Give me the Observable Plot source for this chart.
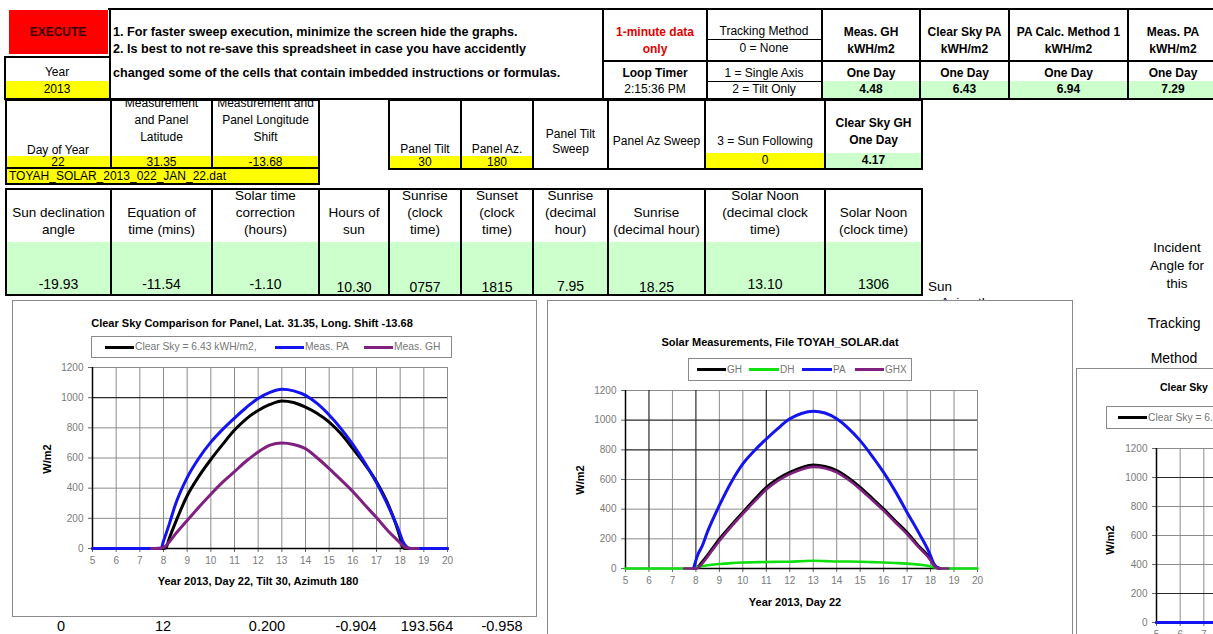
<!DOCTYPE html>
<html><head><meta charset="utf-8">
<script src="https://cdn.jsdelivr.net/npm/d3@7"></script>
<script src="https://cdn.jsdelivr.net/npm/@observablehq/plot@0.6"></script>
<style>
html,body{margin:0;padding:0;}
body{width:1213px;height:634px;overflow:hidden;position:relative;background:#fff;font-family:"Liberation Sans",Arial,sans-serif;}
.a{position:absolute;}
.t{position:absolute;white-space:nowrap;transform:translate(-50%,-50%);line-height:1;}
.frame{position:absolute;background:#fff;border:1.5px solid #8a8a8a;box-sizing:border-box;}
</style></head><body>
<script>
// ---------- DATA ----------
const hours = [5,6,7,7.5,7.75,7.9,8,8.1,8.25,8.5,9,9.5,10,10.5,11,11.5,12,12.5,13,13.5,14,14.5,15,15.5,16,16.5,17,17.5,18,18.1,18.25,18.4,18.5,18.75,19,20];
// Chart 1 (Clear Sky Comparison)
const clearSky = [0,0,0,0,0,0,0,5,70,170,350,480,590,690,785,860,915,955,978,968,937,895,838,760,662,560,443,290,70,10,0,0,0,0,0,0];
const measPA   = [0,0,0,0,0,0,50,95,165,290,470,600,705,790,865,935,995,1035,1055,1045,1015,960,885,795,690,570,435,280,95,50,15,0,0,0,0,0];
const measGH   = [null,null,null,0,2,4,8,18,45,95,185,275,360,440,510,580,640,685,700,690,662,600,530,455,378,290,205,115,37,20,5,2,0,0,null,null];
// Chart 2 (Solar Measurements)
const gh  = [null,null,null,null,null,0,3,12,40,90,198,290,378,465,547,605,648,680,698,688,660,610,547,475,400,320,243,150,63,35,8,0,null,null,null,null];
const dh  = [0,0,0,0,0,2,6,10,15,22,30,36,40,42,44,45,46,49,52,50,47,47,46,43,40,37,33,26,14,10,4,0,0,0,0,0];
const pa  = [null,null,null,null,null,0,55,100,145,250,425,580,705,795,873,945,1009,1045,1060,1048,1009,945,862,760,648,520,378,240,86,45,10,0,null,null,null,null];
const ghx = [null,null,null,0,0,0,0,5,30,80,185,280,368,452,532,592,636,668,685,676,648,598,535,463,390,310,232,142,55,28,5,0,0,0,null,null];
const hourTicks = [5,6,7,8,9,10,11,12,13,14,15,16,17,18,19,20];
const hourTicksVisible3 = [5,6,7];
const wTicks = [0,200,400,600,800,1000,1200];

// Sheet texts
const introLines = ["1. For faster sweep execution, minimize the screen hide the graphs.","2. Is best to not re-save this spreadsheet in case you have accidently","changed some of the cells that contain imbedded instructions or formulas."];
const trackingLines = ["Tracking Method","0 = None","1 = Single Axis","2 = Tilt Only"];
const summaryLabels = [["Meas. GH","kWH/m2"],["Clear Sky PA","kWH/m2"],["PA Calc. Method 1","kWH/m2"],["Meas. PA","kWH/m2"]];
const summaryValues = ["4.48","6.43","6.94","7.29"];
const siteValues = ["22","31.35","-13.68"];
const panelValues = ["30","180"];
const trackingValue = "0";
const clearSkyGH = "4.17";
const fileName = "TOYAH_SOLAR_2013_022_JAN_22.dat";
const row3Headers = [["Sun declination","angle"],["Equation of","time (mins)"],["Solar time","correction","(hours)"],["Hours of","sun"],["Sunrise","(clock","time)"],["Sunset","(clock","time)"],["Sunrise","(decimal","hour)"],["Sunrise","(decimal hour)"],["Solar Noon","(decimal clock","time)"],["Solar Noon","(clock time)"]];
const row3Values = ["-19.93","-11.54","-1.10","10.30","0757","1815","7.95","18.25","13.10","1306"];
const bottomValues = ["0","12","0.200","-0.904","193.564","-0.958"];

// ---------- HELPERS ----------
const root = document.body;
function box(x,y,w,h,style){const d=document.createElement('div');d.className='a';Object.assign(d.style,{left:x+'px',top:y+'px',width:w+'px',height:h+'px'},style||{});root.appendChild(d);return d;}
function H(x1,x2,y,w=2.5,c='#000'){return box(x1,y-w/2,x2-x1,w,{background:c});}
function V(x,y1,y2,w=2.5,c='#000'){return box(x-w/2,y1,w,y2-y1,{background:c});}
function T(x,y,s,o={}){const d=document.createElement('div');d.className='t';d.textContent=s;Object.assign(d.style,{left:x+'px',top:y+'px',fontSize:(o.size||12)+'px',fontWeight:o.bold?'bold':'normal',color:o.color||'#000'});if(o.left)d.style.transform='translate(0,-50%)';if(o.rot)d.style.transform='translate(-50%,-50%) rotate(-90deg)';root.appendChild(d);return d;}

// ---------- SHEET BACKGROUNDS ----------
const YEL='#ffff00', GRN='#ccffcc';
box(9,10,99,44,{background:'#ff0000'});
box(6,81,103,17,{background:YEL});
box(822,81,400,17,{background:GRN});
box(7,156,311,11,{background:YEL});
box(389,156,144,12,{background:YEL});
box(705,153,120,15,{background:YEL});
box(825,153,97,15,{background:GRN});
box(7,169,311,14,{background:YEL});
box(7,242,915,52,{background:GRN});

// ---------- SHEET LINES ----------
H(108,1213,9); H(4,1213,99); H(4,111,57); V(5,57,99); V(110,9,99);
[603,707,822,920,1009,1128].forEach(x=>V(x,9,99));
H(603,1213,61); H(707,822,39,1); H(707,822,81,1);
H(5,320,100); H(5,320,168); H(5,320,184); V(6,100,184); V(319,100,184); V(111,100,168); V(212,100,168);
H(388,923,100); H(388,923,169); [389,461,533,608,705,825,922].forEach(x=>V(x,100,169));
H(5,923,189); H(5,923,295); [6,111,212,319,389,461,533,608,705,825,922].forEach(x=>V(x,189,295));

// ---------- SHEET TEXT ----------
T(58,32,"EXECUTE",{bold:true,color:'#3a0000'});
introLines.forEach((s,i)=>T(113,[32,49,73][i],s,{bold:true,left:true,size:12.6}));
T(57,72,"Year"); T(57,89,"2013");
T(655,32,"1-minute data",{bold:true,color:'#e00000'}); T(655,49,"only",{bold:true,color:'#e00000'});
T(655,73,"Loop Timer",{bold:true}); T(655,89,"2:15:36 PM");
trackingLines.forEach((s,i)=>T(764,[31,48,73,89][i],s));
const sumCenters=[871,964.5,1068.5,1173];
summaryLabels.forEach((l,i)=>{T(sumCenters[i],32,l[0],{bold:true});T(sumCenters[i],49,l[1],{bold:true});T(sumCenters[i],73,"One Day",{bold:true});T(sumCenters[i],89,summaryValues[i],{bold:true});});
T(58,150,"Day of Year");
T(161.5,103,"Measurement"); T(161.5,120,"and Panel"); T(161.5,137,"Latitude");
T(265.5,103,"Measurement and"); T(265.5,120,"Panel Longitude"); T(265.5,137,"Shift");
[58,161.5,265.5].forEach((x,i)=>T(x,162,siteValues[i]));
T(9,176,fileName,{left:true});
T(425,149,"Panel Tilt"); T(497,149,"Panel Az.");
[425,497].forEach((x,i)=>T(x,162,panelValues[i]));
T(570.5,134,"Panel Tilt"); T(570.5,149,"Sweep");
T(656.5,141,"Panel Az Sweep");
T(765,141,"3 = Sun Following"); T(765,160,trackingValue);
T(873.5,123,"Clear Sky GH",{bold:true}); T(873.5,140,"One Day",{bold:true}); T(873.5,160,clearSkyGH,{bold:true});
const c3=[58.5,161.5,265.5,354,425,497,570.5,656.5,765,873.5];
const v3y=[284,284,284,287,287,287,286,287,284,284];
row3Headers.forEach((lines,i)=>{const n=lines.length;lines.forEach((s,j)=>T(c3[i],230-(n-1-j)*17,s,{size:13.5}));T(c3[i],v3y[i],row3Values[i],{size:14});});
T(940,287,"Sun",{size:13.5});
T(965,303,"Azimuth",{size:13.5});
T(1177,248,"Incident",{size:13.5}); T(1177,266,"Angle for",{size:13.5}); T(1177,284,"this",{size:13.5});
T(1174,323,"Tracking",{size:14}); T(1174,358,"Method",{size:14});
const bx=[61,163,267,356,427,502];
bottomValues.forEach((s,i)=>T(bx[i],626,s,{size:14.5}));

// ---------- CHARTS ----------
function frame(x,y,w,h){const d=box(x,y,w,h);d.className='frame';return d;}
function legend(x,y,w,h,items,size){
  box(x,y,w,h,{border:'1px solid #8a8a8a',boxSizing:'border-box',background:'#fff'});
  const cy=y+h/2;
  items.forEach(it=>{box(it.x1,cy-1.5,it.x2-it.x1,3,{background:it.color});T(it.x2+1,cy,it.label,{left:true,size:size,color:'#777'});});
}
function chart(o){
  const ml=60,mt=10,mr=14,mb=30;
  const xLabels=o.xLabels||hourTicks;
  const marks=[
    Plot.gridX(hourTicks.filter(h=>!o.darkX.includes(h)),{stroke:'#8c8c8c',strokeOpacity:1,strokeWidth:1}),
    Plot.gridY(wTicks.filter(v=>!o.darkY.includes(v)),{stroke:'#8c8c8c',strokeOpacity:1,strokeWidth:1}),
    Plot.ruleX(o.darkX,{stroke:'#2a2a2a',strokeWidth:1.2}),
    Plot.ruleY(o.darkY,{stroke:'#2a2a2a',strokeWidth:1.2}),
    Plot.axisX(xLabels,{tickSize:4,tickPadding:4,stroke:'#666',fill:'#7a7a7a',fontSize:10,label:null,tickFormat:d=>String(d)}),
    Plot.axisY(wTicks,{tickSize:4,tickPadding:5,stroke:'#666',fill:'#7a7a7a',fontSize:10,label:null,tickFormat:d=>String(d)}),
    Plot.ruleX([5],{stroke:'#000',strokeWidth:1.5}),
    Plot.ruleY([0],{stroke:'#000',strokeWidth:1.5}),
    ...o.series.map(s=>Plot.line(hours.map((h,i)=>({h,v:s.values[i]})),{x:'h',y:'v',stroke:s.color,strokeWidth:s.w||3,curve:'monotone-x'}))
  ];
  const svg=Plot.plot({width:ml+o.w+mr,height:mt+o.h+mb,marginLeft:ml,marginTop:mt,marginRight:mr,marginBottom:mb,
    x:{domain:[5,20]},y:{domain:[0,1200]},marks,
    style:{fontFamily:'"Liberation Sans",Arial,sans-serif',fontSize:'10px',background:'transparent',overflow:'visible'}});
  svg.style.position='absolute';svg.style.left=(o.x-ml)+'px';svg.style.top=(o.y-mt)+'px';
  root.appendChild(svg);
}
const BLK='#000000', BLU='#1414f0', PUR='#80207f', GRE='#10e010';

// Chart 1
frame(12,300,525,317);
T(252,323,"Clear Sky Comparison for Panel, Lat. 31.35, Long. Shift -13.68",{bold:true,size:11});
legend(91,336,361,22,[{x1:105,x2:134,color:BLK,label:"Clear Sky = 6.43 kWH/m2,"},{x1:275,x2:304,color:BLU,label:"Meas. PA"},{x1:364,x2:393,color:PUR,label:"Meas. GH"}],10.3);
chart({x:92,y:367,w:355,h:181,darkX:[],darkY:[1000],series:[{values:clearSky,color:BLK},{values:measPA,color:BLU},{values:measGH,color:PUR}]});
T(258,581,"Year 2013, Day 22, Tilt 30, Azimuth 180",{bold:true,size:11});
T(47,459,"W/m2",{bold:true,size:11,rot:true});

// Chart 2
frame(547,300,526,350);
T(780,342,"Solar Measurements, File TOYAH_SOLAR.dat",{bold:true,size:11});
legend(688,358,224,23,[{x1:697,x2:726,color:BLK,label:"GH"},{x1:749,x2:779,color:GRE,label:"DH"},{x1:802,x2:832,color:BLU,label:"PA"},{x1:855,x2:884,color:PUR,label:"GHX"}],10);
chart({x:625,y:390,w:352,h:178,darkX:[6,8,11],darkY:[1000,800],series:[{values:gh,color:BLK},{values:dh,color:GRE,w:2.6},{values:pa,color:BLU},{values:ghx,color:PUR,w:2.6}]});
T(795,602,"Year 2013, Day 22",{bold:true,size:11});
T(580,480,"W/m2",{bold:true,size:11,rot:true});

// Chart 3 (cut off at the right edge)
frame(1076,368,400,320);
T(1160,387,"Clear Sky",{bold:true,size:10.5,left:true});
legend(1106,406,200,23,[{x1:1118,x2:1147,color:BLK,label:"Clear Sky = 6.43 kWH/m2,"}],10.3);
chart({x:1156,y:448,w:355,h:174,darkX:[],darkY:[1000,200],xLabels:hourTicksVisible3,series:[{values:clearSky,color:BLK},{values:measPA,color:BLU},{values:measGH,color:PUR}]});
T(1110,540,"W/m2",{bold:true,size:11,rot:true});
</script>
</body></html>
